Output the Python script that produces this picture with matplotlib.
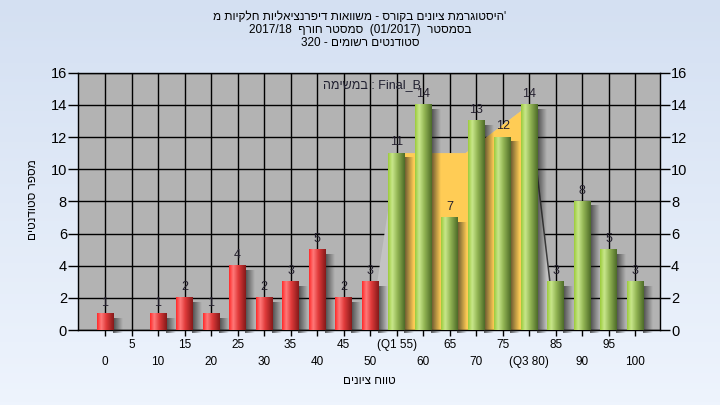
import matplotlib
matplotlib.use("Agg")
import matplotlib.pyplot as plt
from matplotlib.colors import LinearSegmentedColormap
from matplotlib.patches import Rectangle
import numpy as np

plt.rcParams["font.family"] = ["Liberation Sans", "DejaVu Sans"]

# grade bins and number of students per bin
grades = list(range(0, 101, 5))
counts = [1, 0, 1, 2, 1, 4, 2, 3, 5, 2, 3, 11, 14, 7, 13, 12, 14, 3, 8, 5, 3]
pass_grade = 55
q1, q3 = 55, 80
# background "area" shape drawn behind the bars
area_grades = [50, 55, 68, 80, 85]
area_counts = [0, 11, 11, 14, 0]
special_ticks = {55: "(Q1 55)", 80: "(Q3 80)"}


def heb(word):
    # matplotlib has no bidi: reverse letters so Hebrew reads right to left
    return word[::-1]


title1 = " ".join(heb(w) for w in ["מ", "חלקיות", "דיפרנציאליות", "משוואות", "-",
                                   "בקורס", "ציונים", "'היסטוגרמת"])
title2 = "2017/18  " + heb("חורף") + " " + heb("סמסטר") + "  (01/2017)  " + heb("בסמסטר")
title3 = "320 - " + heb("רשומים") + " " + heb("סטודנטים")
xlabel = heb("ציונים") + " " + heb("טווח")
ylabel = heb("סטודנטים") + " " + heb("מספר")
note = heb("במשימה") + " : Final_B"

W, H = 720, 405
fig = plt.figure(figsize=(W / 100, H / 100), dpi=100)

# light blue gradient background
bg = fig.add_axes([0, 0, 1, 1], zorder=-10)
bg_cmap = LinearSegmentedColormap.from_list("bg", ["#eef4fd", "#d4e0f2"])
bg.imshow(np.linspace(0, 1, 128).reshape(-1, 1), cmap=bg_cmap, origin="lower",
          extent=(0, 1, 0, 1), aspect="auto")
bg.axis("off")

ax = fig.add_axes([78 / W, 75 / H, 582 / W, 257.3 / H])
ax.set_facecolor("#b3b3b3")
ax.set_axisbelow(True)

x = np.arange(len(grades))
to_idx = lambda g: np.asarray(g) / 5.0

# area behind bars: gray outside, yellow between Q1 and Q3
ax.fill(to_idx(area_grades), area_counts, color="#c3c3c3", lw=0, zorder=1)
yel = ax.fill(to_idx(area_grades), area_counts, color="#ffcc55", lw=0, zorder=1.1)[0]
yel.set_clip_path(Rectangle((to_idx(q1), 0), to_idx(q3) - to_idx(q1), 20,
                            transform=ax.transData))
ax.plot(to_idx(area_grades[-2:]), area_counts[-2:], color="#3c3c3c", lw=1.1, zorder=1.2)

red = LinearSegmentedColormap.from_list(
    "red", [(0, "#ff2a2a"), (0.25, "#ff7a7a"), (0.55, "#e03a3a"), (1, "#861a1a")])
green = LinearSegmentedColormap.from_list(
    "green", [(0, "#9ccb3c"), (0.25, "#c9e78c"), (0.55, "#94b655"), (1, "#4d6b28")])
grad = np.linspace(0, 1, 64).reshape(1, -1)
w = 0.62

for xi, c, g in zip(x, counts, grades):
    if c == 0:
        continue
    sh = np.zeros((1, 32, 4))
    sh[..., :3] = 0.12
    sh[..., 3] = np.linspace(0.7, 0.0, 32)
    im = ax.imshow(sh, extent=(xi + w / 2 - 0.02, xi + w / 2 + 0.32, -0.2, c - 0.3),
                   aspect="auto", zorder=3, interpolation="bilinear")
    im.set_clip_on(False)
    ax.imshow(grad, cmap=red if g < pass_grade else green,
              extent=(xi - w / 2, xi + w / 2, 0, c), aspect="auto", zorder=4,
              interpolation="bilinear")
    ax.text(xi, c + 0.3, str(c), ha="center", va="bottom", fontsize=9,
            color="#24202e", zorder=6)

# grid and axes
ax.set_xlim(-1.02, 20.94)
ax.set_ylim(0, 16)
ax.set_yticks(range(0, 17, 2))
labels = [special_ticks.get(g, str(g)) for g in grades]
ax.set_xticks(x[::2], labels[::2])
ax.set_xticks(x[1::2], labels[1::2], minor=True)
ax.grid(True, which="both", color="black", lw=1)
ax.tick_params(axis="x", which="both", length=4, width=1, labelsize=8.5, color="black")
ax.tick_params(axis="x", which="minor", pad=2.5)
ax.tick_params(axis="x", which="major", pad=14.5)
ax.tick_params(axis="y", left=True, right=True, labelleft=True, labelright=True,
               length=7, width=1, labelsize=10.5, pad=1)
for s in ax.spines.values():
    s.set_color("black")
    s.set_linewidth(1)

fig.text(0.5, 1 - 17 / H, title1, ha="center", va="center", fontsize=8.5)
fig.text(0.5, 1 - 30 / H, title2, ha="center", va="center", fontsize=8.5)
fig.text(0.5, 1 - 43 / H, title3, ha="center", va="center", fontsize=8.5)
fig.text(369 / W, 1 - 381 / H, xlabel, ha="center", va="center", fontsize=8.5)
fig.text(33 / W, 1 - 200 / H, ylabel, rotation=90, ha="center", va="center", fontsize=8.5)
fig.text(372 / W, 1 - 85 / H, note, ha="center", va="center", fontsize=9, color="#202030")

fig.savefig("out.png", dpi=100)
